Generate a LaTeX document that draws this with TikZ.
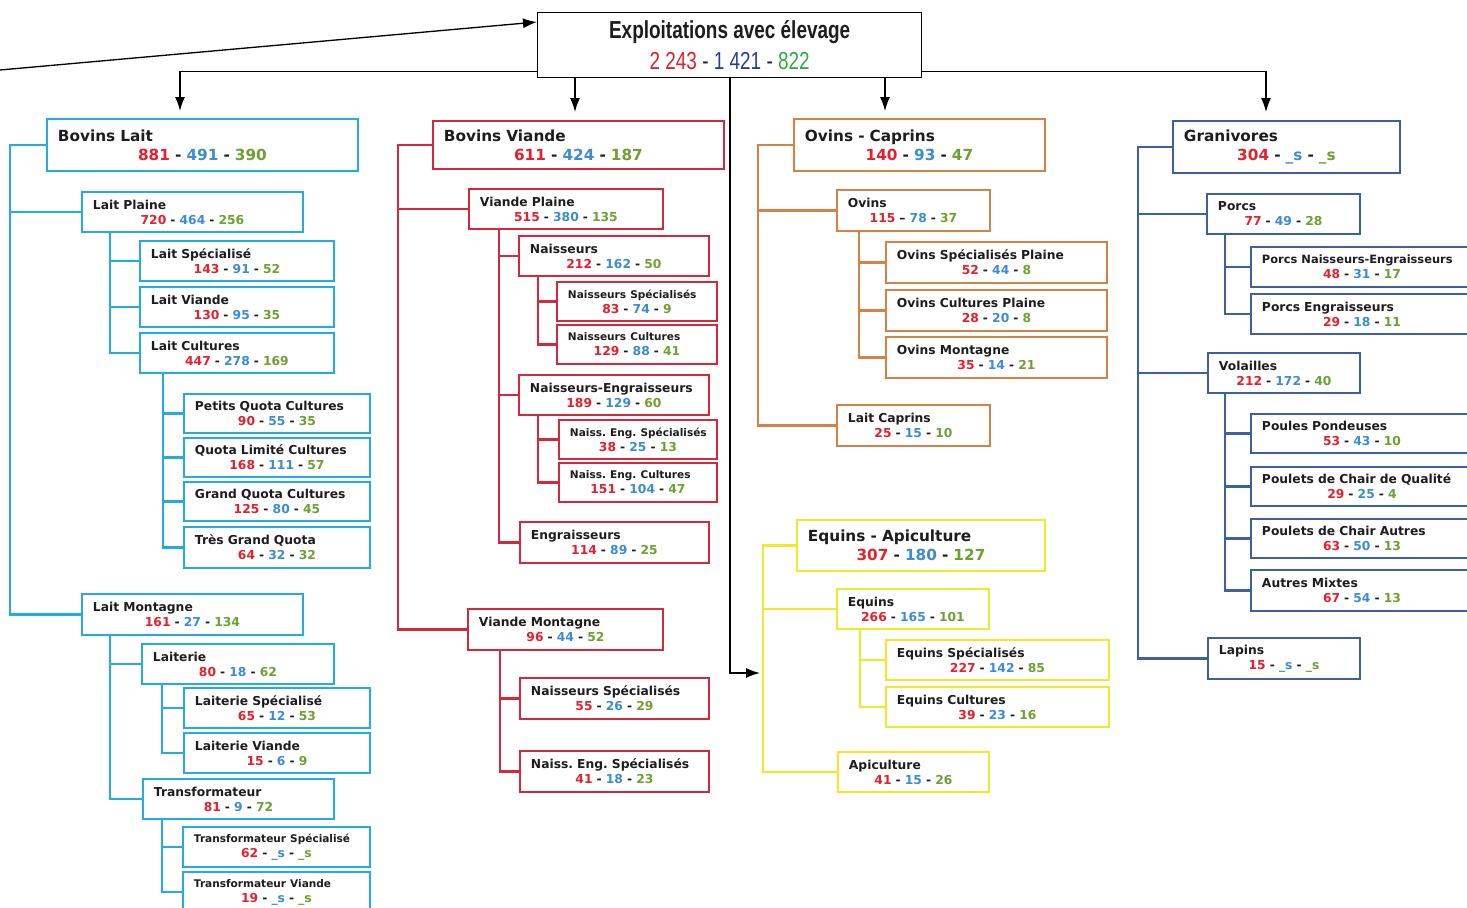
\documentclass[tikz,border=0pt]{standalone}
\usepackage{fontspec}
\usepackage{tikz}
\usetikzlibrary{arrows.meta}
\newfontfamily\bxfont{DejaVu Sans}
\newfontfamily\hdfont{Liberation Sans}[FakeStretch=0.77]
\definecolor{cyanc}{RGB}{35,172,228}
\definecolor{redc}{RGB}{214,40,60}
\definecolor{orc}{RGB}{214,130,70}
\definecolor{yelc}{RGB}{240,232,40}
\definecolor{bluc}{RGB}{60,95,165}
\definecolor{numr}{RGB}{232,30,45}
\definecolor{numb}{RGB}{60,140,210}
\definecolor{numg}{RGB}{110,160,50}
\definecolor{hdr}{RGB}{228,30,40}
\definecolor{hdb}{RGB}{40,60,150}
\definecolor{hdg}{RGB}{50,170,70}
\definecolor{ink}{RGB}{30,28,30}
\def\nr#1{\textcolor{numr}{#1}}
\def\nb#1{\textcolor{numb}{#1}}
\def\ng#1{\textcolor{numg}{#1}}
\def\trio#1#2#3{\nr{#1} - \nb{#2} - \ng{#3}}
\def\cellfont{\bxfont\bfseries\frenchspacing\fontsize{7}{8.5}\selectfont}
\def\bigfont{\bxfont\bfseries\fontsize{8.7}{10.8}\selectfont}
\def\midtitle{\fontsize{6.5}{8.5}\selectfont}
\def\tinytitle{\fontsize{6}{8.5}\selectfont}
\newcommand\tcell[8]{\node[cellbox,#1,minimum height=#6*0.2mm,text width=#5*0.2mm-4.4mm] (#2) at (#3,#4) {\mbox{#7}\par\centering #8\par};}
\tikzset{
  boxcol/.style={draw=black},
  cellbox/.style={boxcol, line width=1.1pt, fill=white, anchor=north west, inner xsep=2.2mm, inner ysep=0pt, text=ink, font=\cellfont},
  bigcell/.style={font=\bigfont},
  link/.style={boxcol, line width=1.25pt},
  arr/.style={line width=0.75pt, -{Latex[length=2.8mm,width=2mm]}}
}

\begin{document}
\begin{tikzpicture}[x=0.2mm,y=-0.2mm]
  \clip (0,0) rectangle (1467,907);
  \node[draw, line width=0.75pt, anchor=north west, minimum width=384*0.2mm, minimum height=65*0.2mm, inner sep=0pt, align=center, text=ink, font=\hdfont\fontsize{14}{17.6}\selectfont] (hd) at (537,12)
    {{\bfseries Exploitations avec élevage}\\\textcolor{hdr}{2 243} - \textcolor{hdb}{1 421} - \textcolor{hdg}{822}};
  \begin{scope}[boxcol/.style={draw=cyanc}]
    \tcell{bigcell}{bl}{46}{118}{311}{52}{Bovins Lait}{\trio{881}{491}{390}}
    \tcell{}{lp}{81}{191}{221}{40}{Lait Plaine}{\trio{720}{464}{256}}
    \tcell{}{ls}{139}{240}{194}{40}{Lait Spécialisé}{\trio{143}{91}{52}}
    \tcell{}{lv}{139}{286}{194}{40}{Lait Viande}{\trio{130}{95}{35}}
    \tcell{}{lc}{139}{332}{194}{40}{Lait Cultures}{\trio{447}{278}{169}}
    \tcell{}{pq}{183}{393}{186}{39}{Petits Quota Cultures}{\trio{90}{55}{35}}
    \tcell{}{ql}{183}{437}{186}{39}{Quota Limité Cultures}{\trio{168}{111}{57}}
    \tcell{}{gq}{183}{481}{186}{39}{Grand Quota Cultures}{\trio{125}{80}{45}}
    \tcell{}{tq}{183}{526}{186}{41}{Très Grand Quota}{\trio{64}{32}{32}}
    \tcell{}{lm}{81}{593}{221}{41}{Lait Montagne}{\trio{161}{27}{134}}
    \tcell{}{la}{141}{643}{192}{40}{Laiterie}{\trio{80}{18}{62}}
    \tcell{}{lsp}{183}{687}{186}{40}{Laiterie Spécialisé}{\trio{65}{12}{53}}
    \tcell{}{lvi}{183}{732}{186}{40}{Laiterie Viande}{\trio{15}{6}{9}}
    \tcell{}{tr}{142}{778}{191}{40}{Transformateur}{\trio{81}{9}{72}}
    \tcell{}{tsp}{182}{826}{187}{40}{\tinytitle Transformateur Spécialisé}{\trio{62}{\_s}{\_s}}
    \tcell{}{tvi}{182}{871}{187}{40}{\tinytitle Transformateur Viande}{\trio{19}{\_s}{\_s}}
    \foreach \c in {lp,lm} \draw[link] (bl.west) -- ++(-36,0) |- (\c.west);
    \foreach \c in {ls,lv,lc} \draw[link] ([shift={(29,0)}]lp.south west) |- (\c.west);
    \foreach \c in {pq,ql,gq,tq} \draw[link] ([shift={(24,0)}]lc.south west) |- (\c.west);
    \foreach \c in {la,tr} \draw[link] ([shift={(29,0)}]lm.south west) |- (\c.west);
    \foreach \c in {lsp,lvi} \draw[link] ([shift={(21,0)}]la.south west) |- (\c.west);
    \foreach \c in {tsp,tvi} \draw[link] ([shift={(20,0)}]tr.south west) |- (\c.west);
  \end{scope}
  \begin{scope}[boxcol/.style={draw=redc}]
    \tcell{bigcell}{bv}{432}{120}{291}{48}{Bovins Viande}{\trio{611}{424}{187}}
    \tcell{}{vp}{468}{188}{194}{40}{Viande Plaine}{\trio{515}{380}{135}}
    \tcell{}{na}{518}{235}{190}{40}{Naisseurs}{\trio{212}{162}{50}}
    \tcell{}{nsp}{556}{281}{160}{39}{\tinytitle Naisseurs Spécialisés}{\trio{83}{74}{9}}
    \tcell{}{ncu}{556}{324}{160}{39}{\tinytitle Naisseurs Cultures}{\trio{129}{88}{41}}
    \tcell{}{ne}{518}{374}{190}{40}{Naisseurs-Engraisseurs}{\trio{189}{129}{60}}
    \tcell{}{nes}{558}{419}{158}{39}{\tinytitle Naiss. Eng. Spécialisés}{\trio{38}{25}{13}}
    \tcell{}{nec}{558}{462}{158}{39}{\tinytitle Naiss. Eng. Cultures}{\trio{151}{104}{47}}
    \tcell{}{en}{519}{521}{189}{41}{Engraisseurs}{\trio{114}{89}{25}}
    \tcell{}{vm}{467}{608}{195}{41}{Viande Montagne}{\trio{96}{44}{52}}
    \tcell{}{vns}{519}{677}{189}{41}{Naisseurs Spécialisés}{\trio{55}{26}{29}}
    \tcell{}{vne}{519}{750}{189}{41}{Naiss. Eng. Spécialisés}{\trio{41}{18}{23}}
    \foreach \c in {vp,vm} \draw[link] (bv.west) -- ++(-34,0) |- (\c.west);
    \foreach \c in {na,ne,en} \draw[link] ([shift={(31,0)}]vp.south west) |- (\c.west);
    \foreach \c in {nsp,ncu} \draw[link] ([shift={(20,0)}]na.south west) |- (\c.west);
    \foreach \c in {nes,nec} \draw[link] ([shift={(20,0)}]ne.south west) |- (\c.west);
    \foreach \c in {vns,vne} \draw[link] ([shift={(33,0)}]vm.south west) |- (\c.west);
  \end{scope}
  \begin{scope}[boxcol/.style={draw=orc}]
    \tcell{bigcell}{oc}{793}{118}{251}{52}{Ovins - Caprins}{\trio{140}{93}{47}}
    \tcell{}{ov}{836}{189}{153}{41}{Ovins}{\nr{115} – \nb{78} - \ng{37}}
    \tcell{}{osp}{885}{241}{221}{41}{Ovins Spécialisés Plaine}{\trio{52}{44}{8}}
    \tcell{}{ocp}{885}{289}{221}{41}{Ovins Cultures Plaine}{\trio{28}{20}{8}}
    \tcell{}{omo}{885}{336}{221}{41}{Ovins Montagne}{\trio{35}{14}{21}}
    \tcell{}{lca}{836}{404}{153}{41}{Lait Caprins}{\trio{25}{15}{10}}
    \foreach \c in {ov,lca} \draw[link] (oc.west) -- ++(-35,0) |- (\c.west);
    \foreach \c in {osp,ocp,omo} \draw[link] ([shift={(23,0)}]ov.south west) |- (\c.west);
  \end{scope}
  \begin{scope}[boxcol/.style={draw=yelc}]
    \tcell{bigcell}{ea}{796}{519}{248}{51}{Equins - Apiculture}{\trio{307}{180}{127}}
    \tcell{}{eq}{836}{588}{152}{40}{Equins}{\trio{266}{165}{101}}
    \tcell{}{esp}{885}{639}{223}{40}{Equins Spécialisés}{\trio{227}{142}{85}}
    \tcell{}{ecu}{885}{686}{223}{40}{Equins Cultures}{\trio{39}{23}{16}}
    \tcell{}{api}{837}{751}{151}{40}{Apiculture}{\trio{41}{15}{26}}
    \foreach \c in {eq,api} \draw[link] (ea.west) -- ++(-33,0) |- (\c.west);
    \foreach \c in {esp,ecu} \draw[link] ([shift={(24,0)}]eq.south west) |- (\c.west);
  \end{scope}
  \begin{scope}[boxcol/.style={draw=bluc}]
    \tcell{bigcell}{gr}{1172}{120}{227}{52}{Granivores}{\trio{304}{\_s}{\_s}}
    \tcell{}{po}{1206}{193}{153}{40}{Porcs}{\trio{77}{49}{28}}
    \tcell{}{pne}{1250}{246}{222}{40}{\midtitle Porcs Naisseurs-Engraisseurs}{\trio{48}{31}{17}}
    \tcell{}{pen}{1250}{293}{222}{40}{Porcs Engraisseurs}{\trio{29}{18}{11}}
    \tcell{}{vo}{1207}{352}{152}{40}{Volailles}{\trio{212}{172}{40}}
    \tcell{}{pp}{1250}{413}{222}{39}{Poules Pondeuses}{\trio{53}{43}{10}}
    \tcell{}{pcq}{1250}{466}{222}{39}{Poulets de Chair de Qualité}{\trio{29}{25}{4}}
    \tcell{}{pca}{1250}{518}{222}{39}{Poulets de Chair Autres}{\trio{63}{50}{13}}
    \tcell{}{am}{1250}{569}{222}{41}{Autres Mixtes}{\trio{67}{54}{13}}
    \tcell{}{lap}{1207}{637}{152}{41}{Lapins}{\trio{15}{\_s}{\_s}}
    \foreach \c in {po,vo,lap} \draw[link] (gr.west) -- ++(-34,0) |- (\c.west);
    \foreach \c in {pne,pen} \draw[link] ([shift={(19,0)}]po.south west) |- (\c.west);
    \foreach \c in {pp,pcq,pca,am} \draw[link] ([shift={(18,0)}]vo.south west) |- (\c.west);
  \end{scope}
  \coordinate (src) at (0,70);
  \draw[arr] (src) -- ([shift={(0,10)}]hd.north west);
  \draw[arr] ([shift={(0,-7)}]hd.south west) -| ([shift={(134,-7)}]bl.north west);
  \draw[arr] ([shift={(38,0)}]hd.south west) -- ([shift={(143,-8)}]bv.north west);
  \draw[arr] ([shift={(348,0)}]hd.south west) -- ([shift={(92,-7)}]oc.north west);
  \draw[arr] ([shift={(0,-7)}]hd.south east) -| ([shift={(94,-8)}]gr.north west);
  \draw[arr] ([shift={(193,0)}]hd.south west) |- ([shift={(-36,154)}]ea.north west);
\end{tikzpicture}
\end{document}
